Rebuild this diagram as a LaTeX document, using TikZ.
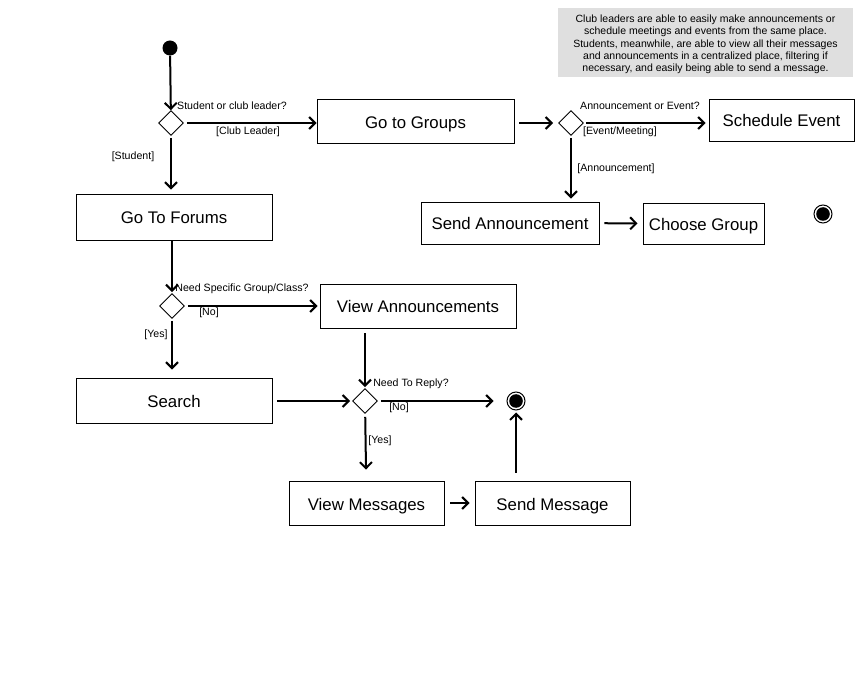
\documentclass[tikz,border=0pt]{standalone}
\usepackage{fontspec}
\setmainfont{Liberation Sans}
\usetikzlibrary{arrows.meta,shapes.geometric}

\tikzset{
    box/.style={draw, line width=0.9pt, minimum height=44, text height=14, text depth=0,
        font=\fontsize{16.8}{20}\selectfont},
    dec/.style={draw, diamond, line width=0.9pt, minimum width=25, minimum height=25, inner sep=0pt},
    lbl/.style={font=\fontsize{10.6}{12}\selectfont, inner sep=1pt},
    flow/.style={line width=2pt, -{Straight Barb[length=6pt,width=12pt,line width=2pt]}},
    startnode/.style={circle, fill=black, minimum size=15, inner sep=0pt},
    endnode/.style={circle, draw, line width=1pt, minimum size=18, inner sep=0pt,
        path picture={\fill (path picture bounding box.center) circle (6.8);}},
    note/.style={align=center, inner sep=0pt, font=\fontsize{10.5}{12.3}\selectfont}
}

\begin{document}
\begin{tikzpicture}[x=1pt, y=-1pt]
    \useasboundingbox (0,0) rectangle (868,676);

    % Nota in alto a destra
    \fill[gray!25] (558,8) rectangle (853,77);
    \node[note] (info) at (705.5,44.5) {Club leaders are able to easily make announcements or\\
        schedule meetings and events from the same place.\\
        Students, meanwhile, are able to view all their messages\\
        and announcements in a centralized place, filtering if\\
        necessary, and easily being able to send a message.};

    % Inizio e prima scelta
    \node[startnode] (start) at (170,48) {};
    \node[dec] (role) at (171,123) {};
    \node[lbl] (roleq) at (232,106) {Student or club leader?};
    \draw[flow] (start) -- (role);

    % Ramo club leader
    \node[box, minimum width=197] (groups) at (415.5,121.5) {Go to Groups};
    \node[dec] (kind) at (571,123) {};
    \node[lbl] (kindq) at (640,106) {Announcement or Event?};
    \node[box, minimum width=145, minimum height=42] (event) at (781.5,120) {Schedule Event};
    \node[box, minimum width=178, minimum height=42] (sendann) at (510,223) {Send Announcement};
    \node[box, minimum width=121, minimum height=41] (choose) at (703.5,223.5) {Choose Group};
    \node[endnode] (endA) at (823,214) {};

    \draw[flow, shorten <=3pt] (role) -- (role -| groups.west);
    \node[lbl] (leader) at (248,132) {[Club Leader]};
    \draw[flow, shorten <=5pt, shorten >=5pt] (groups.east |- kind) -- (kind);
    \draw[flow, shorten <=2pt, shorten >=3pt] (kind) -- (kind -| event.west);
    \node[lbl] (evlbl) at (620,132) {[Event/Meeting]};
    \draw[flow, shorten <=2pt, shorten >=3pt] (kind) -- (sendann.north -| kind);
    \node[lbl] (annlbl) at (616,169) {[Announcement]};
    \draw[flow, shorten <=5pt, shorten >=5pt] (sendann) -- (choose);

    % Ramo studente
    \node[box, minimum width=196, minimum height=46] (forums) at (174,217) {Go To Forums};
    \draw[flow, shorten <=2pt, shorten >=4pt] (role) -- (forums.north -| role);
    \node[lbl] (stlbl) at (133,157) {[Student]};

    \node[dec] (specific) at (172,306) {};
    \node[lbl] (specq) at (242,289) {Need Specific Group/Class?};
    \draw[flow, shorten >=1pt] (forums.south -| specific) -- (specific);

    \node[box, minimum width=196] (viewann) at (418,306) {View Announcements};
    \draw[flow, shorten <=3pt, shorten >=2pt] (specific) -- (viewann);
    \node[lbl] (nolbl) at (209,313) {[No]};

    \node[box, minimum width=196, minimum height=45] (search) at (174,400.5) {Search};
    \draw[flow, shorten <=2pt, shorten >=8pt] (specific) -- (search.north -| specific);
    \node[lbl] (yeslbl) at (156,335) {[Yes]};

    % Risposta
    \node[dec] (reply) at (365,401) {};
    \node[lbl] (replyq) at (411,384) {Need To Reply?};
    \draw[flow, shorten <=5pt, shorten >=2pt] (search.east |- reply) -- (reply);
    \draw[flow, shorten <=5pt, shorten >=1pt] (viewann.south -| reply) -- (reply);

    \node[endnode] (endB) at (516,401) {};
    \draw[flow, shorten <=3pt, shorten >=13pt] (reply) -- (endB);
    \node[lbl] (nolbl2) at (399,408) {[No]};

    \node[box, minimum width=155] (viewmsg) at (366.5,503) {View Messages};
    \node[box, minimum width=155] (sendmsg) at (552.5,503) {Send Message};
    \draw[flow, shorten <=3pt, shorten >=11pt] (reply) -- (viewmsg);
    \node[lbl] (yeslbl2) at (380,441) {[Yes]};
    \draw[flow, shorten <=6pt, shorten >=5pt] (viewmsg) -- (sendmsg);
    \draw[flow, shorten <=8pt, shorten >=2pt] (sendmsg.north -| endB) -- (endB);
\end{tikzpicture}
\end{document}
